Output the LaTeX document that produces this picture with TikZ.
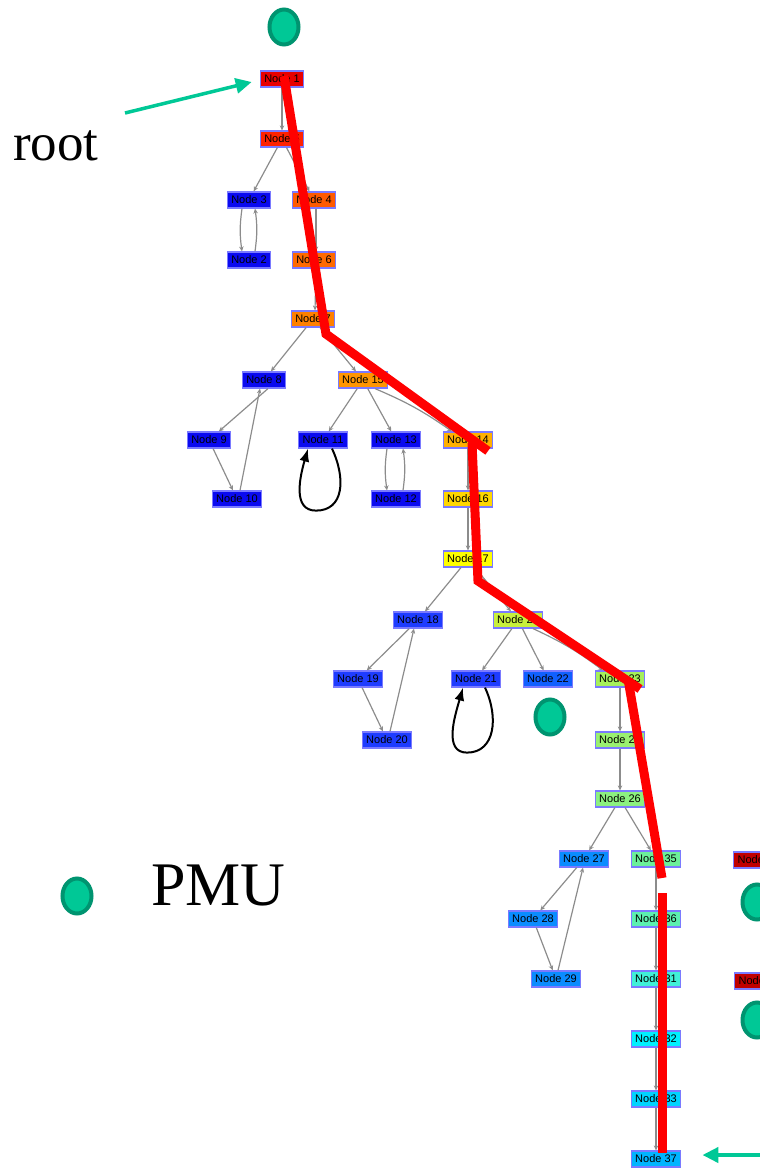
\documentclass[tikz,border=0pt]{standalone}
\usepackage{fontspec}
\setmainfont{Liberation Serif}
\newfontfamily\nodefont{Liberation Sans}
\usetikzlibrary{arrows.meta,shapes.geometric}

% palette
\definecolor{pmugreen}{HTML}{00C896}
\definecolor{pmuedge}{HTML}{009470}
\definecolor{nodeedge}{HTML}{7A7AFF}
\definecolor{edgegray}{HTML}{8C8C8C}
\definecolor{blueA}{HTML}{0A0AF0}
\definecolor{blueB}{HTML}{1E3CFF}
\definecolor{blueC}{HTML}{1060FF}
\definecolor{blueD}{HTML}{0A8CFF}
\definecolor{darkred}{HTML}{C00000}

\tikzset{
  nd/.style={draw=nodeedge, line width=1.2pt, inner xsep=4pt, inner ysep=0pt,
    minimum height=16pt, text=black, font={\nodefont\fontsize{11pt}{12pt}\selectfont}},
  link/.style={draw=edgegray, line width=1.2pt, -{Stealth[length=5pt,width=4.5pt]}},
  redpath/.style={draw=red, line width=9pt},
  selfloop/.style={draw=black, line width=2pt, -{Latex[length=13pt,width=10pt]}},
  pmu/.style={ellipse, draw=pmuedge, fill=pmugreen, line width=4pt,
    minimum width=29pt, minimum height=35pt, inner sep=0pt},
  pointer/.style={draw=pmugreen, line width=3.5pt, -{Triangle[length=16pt,width=15pt]}},
}

\begin{document}
\begin{tikzpicture}[x=1pt,y=-1pt]
\useasboundingbox (0,0) rectangle (760,1168);
\clip (0,0) rectangle (760,1168);

% ---- tree nodes ----
\node[nd, fill={rgb,255:red,232;green,0;blue,0}]   (n1)  at (282,79)  {Node 1};
\node[nd, fill={rgb,255:red,255;green,34;blue,0}]  (n5)  at (282,139) {Node 5};
\node[nd, fill=blueA] (n3) at (249,200) {Node 3};
\node[nd, fill={rgb,255:red,255;green,90;blue,0}]  (n4)  at (314,200) {Node 4};
\node[nd, fill=blueA] (n2) at (249,260) {Node 2};
\node[nd, fill={rgb,255:red,255;green,106;blue,0}] (n6)  at (314,260) {Node 6};
\node[nd, fill={rgb,255:red,255;green,128;blue,0}] (n7)  at (313,319) {Node 7};
\node[nd, fill=blueA] (n8) at (264,380) {Node 8};
\node[nd, fill={rgb,255:red,255;green,149;blue,0}] (n15) at (363,380) {Node 15};
\node[nd, fill=blueA] (n9)  at (209,440) {Node 9};
\node[nd, fill=blueA] (n11) at (323,440) {Node 11};
\node[nd, fill=blueA] (n13) at (396,440) {Node 13};
\node[nd, fill={rgb,255:red,255;green,176;blue,0}] (n14) at (468,440) {Node 14};
\node[nd, fill=blueA] (n10) at (237,499) {Node 10};
\node[nd, fill=blueA] (n12) at (396,499) {Node 12};
\node[nd, fill={rgb,255:red,255;green,215;blue,0}] (n16) at (468,499) {Node 16};
\node[nd, fill={rgb,255:red,255;green,255;blue,0}] (n17) at (468,559) {Node 17};
\node[nd, fill=blueB] (n18) at (418,620) {Node 18};
\node[nd, fill={rgb,255:red,200;green,240;blue,60}] (n24) at (518,620) {Node 24};
\node[nd, fill=blueB] (n19) at (358,679) {Node 19};
\node[nd, fill=blueB] (n21) at (476,679) {Node 21};
\node[nd, fill=blueC] (n22) at (548,679) {Node 22};
\node[nd, fill={rgb,255:red,166;green,240;blue,90}] (n23) at (620,679) {Node 23};
\node[nd, fill=blueB] (n20) at (387,740) {Node 20};
\node[nd, fill={rgb,255:red,154;green,240;blue,112}] (n25) at (620,740) {Node 25};
\node[nd, fill={rgb,255:red,140;green,240;blue,128}] (n26) at (620,799) {Node 26};
\node[nd, fill=blueD] (n27) at (584,859) {Node 27};
\node[nd, fill={rgb,255:red,108;green,240;blue,154}] (n35) at (656,859) {Node 35};
\node[nd, fill=blueD] (n28) at (533,919) {Node 28};
\node[nd, fill=blueD] (n29) at (556,979) {Node 29};
\node[nd, fill={rgb,255:red,92;green,240;blue,176}] (n36) at (656,919) {Node 36};
\node[nd, fill={rgb,255:red,64;green,240;blue,216}] (n31) at (656,979) {Node 31};
\node[nd, fill={rgb,255:red,0;green,240;blue,255}] (n32) at (656,1039) {Node 32};
\node[nd, fill={rgb,255:red,0;green,212;blue,255}] (n33) at (656,1099) {Node 33};
\node[nd, fill={rgb,255:red,0;green,180;blue,255}] (n37) at (656,1159) {Node 37};
% nodes running past the right border
\node[nd, fill=darkred, anchor=west] (n30) at (733,860) {Node 30};
\node[nd, fill=darkred, anchor=west] (n34) at (734,981) {Node 34};

% ---- directed edges ----
\draw[link] (n1) -- (n5);
\draw[link] (n5) -- (n3);
\draw[link] (n5) -- (n4);
\draw[link] ([xshift=-7pt]n3.south) to[bend right=8] ([xshift=-7pt]n2.north);
\draw[link] ([xshift=6pt]n2.north) to[bend right=8] ([xshift=6pt]n3.south);
\draw[link] ([xshift=2pt]n4.south) -- ([xshift=2pt]n6.north);
\draw[link] ([xshift=2pt]n6.south) -- ([xshift=2pt]n7.north);
\draw[link] (n7) -- (n8);
\draw[link] (n7) -- (n15);
\draw[link] ([xshift=4pt]n8.south) -- (n9);
\draw[link] (n9) -- (n10);
\draw[link] ([xshift=3pt]n10.north) -- ([xshift=-4pt]n8.south);
\draw[link] (n15) -- (n11);
\draw[link] (n15) -- (n13);
\draw[link] ([xshift=12pt]n15.south) to[bend left=6] ([xshift=-16pt]n14.north);
\draw[link] ([xshift=-9pt]n13.south) to[bend right=8] ([xshift=-9pt]n12.north);
\draw[link] ([xshift=7pt]n12.north) to[bend right=8] ([xshift=7pt]n13.south);
\draw[link] (n14) -- (n16);
\draw[link] (n16) -- (n17);
\draw[link] (n17) -- (n18);
\draw[link] (n17) -- (n24);
\draw[link] (n18) -- (n19);
\draw[link] (n19) -- (n20);
\draw[link] ([xshift=3pt]n20.north) -- ([xshift=-4pt]n18.south);
\draw[link] (n24) -- (n21);
\draw[link] (n24) -- (n22);
\draw[link] ([xshift=15pt]n24.south) to[bend left=6] ([xshift=-17pt]n23.north);
\draw[link] (n23) -- (n25);
\draw[link] (n25) -- (n26);
\draw[link] (n26) -- (n27);
\draw[link] (n26) -- (n35);
\draw[link] (n27) -- (n28);
\draw[link] (n28) -- (n29);
\draw[link] ([xshift=2pt]n29.north) -- ([xshift=-1pt]n27.south);
\draw[link] (n35) -- (n36);
\draw[link] (n36) -- (n31);
\draw[link] (n31) -- (n32);
\draw[link] (n32) -- (n33);
\draw[link] (n33) -- (n37);

% ---- highlighted path ----
\coordinate (r0) at (284,76);
\coordinate (r1) at (326,334);
\coordinate (r2) at (488,451);
\coordinate (r3) at (472,443);
\coordinate (r4) at (478,581);
\coordinate (r5) at (640,689);
\coordinate (r6) at (628,679);
\coordinate (r7) at (662,878);
\coordinate (r8) at (662,893);
\coordinate (r9) at (662,1153);
\draw[redpath] (r0) -- (r1) -- (r2);
\draw[redpath] (r3) -- (r4) -- (r5);
\draw[redpath] (r6) -- (r7);
\draw[redpath] (r8) -- (r9);

% ---- self loops ----
\draw[selfloop] ([xshift=9pt]n11.south)
  .. controls +(14,30) and +(28,0) .. ([shift={(-7,62)}]n11.south)
  .. controls +(-24,0) and +(-8,28) .. ([xshift=-15pt]n11.south);
\draw[selfloop] ([xshift=9pt]n21.south)
  .. controls +(14,30) and +(28,0) .. ([shift={(-9,65)}]n21.south)
  .. controls +(-24,0) and +(-8,28) .. ([xshift=-13pt]n21.south);

% ---- PMU markers ----
\node[pmu] (p1) at (284,27) {};
\node[pmu] (p2) at (550,717) {};
\node[pmu] (p3) at (757,902) {};
\node[pmu] (p4) at (757,1020) {};
\node[pmu] (p5) at (77,896) {};

% ---- annotations ----
\node[anchor=base west, inner sep=0pt, font=\fontsize{53pt}{60pt}\selectfont] (lroot) at (13,160) {root};
\node[anchor=base west, inner sep=0pt, font=\fontsize{62pt}{70pt}\selectfont] (lpmu) at (151,905) {PMU};
\coordinate (rootstart) at (125,113);
\coordinate (endstart) at (764,1155);
\draw[pointer] (rootstart) -- ([shift={(-8,3)}]n1.west);
\draw[pointer, line width=4.5pt] (endstart) -- ([shift={(21,-4)}]n37.east);
\end{tikzpicture}
\end{document}
